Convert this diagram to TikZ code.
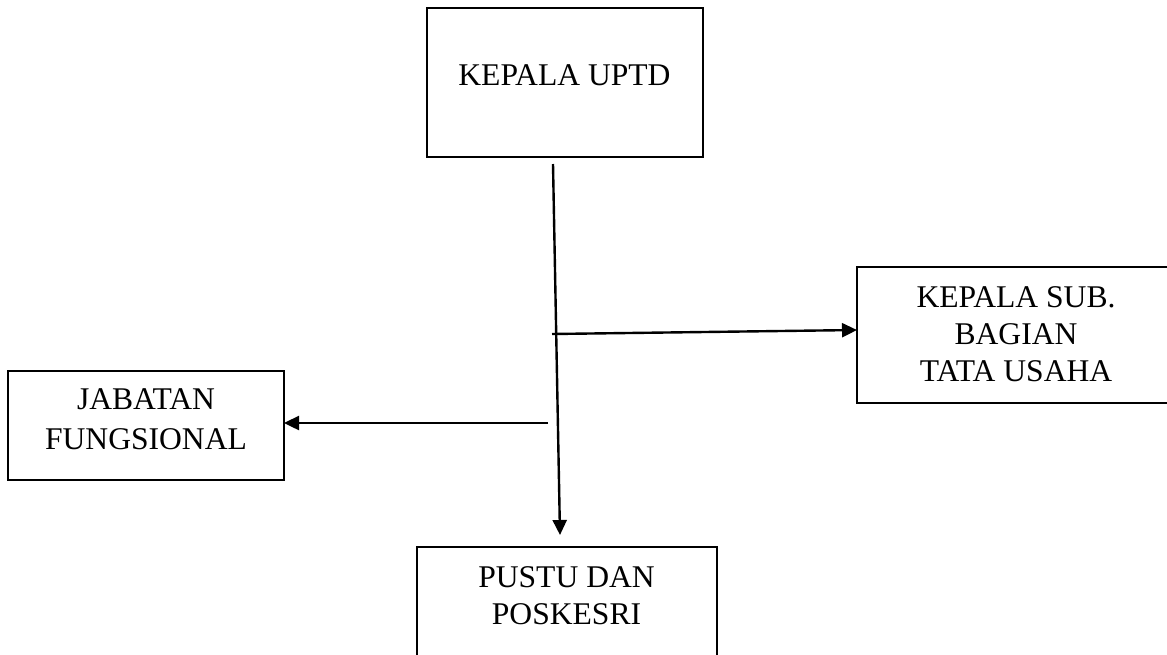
\documentclass[tikz,border=0pt]{standalone}
\usepackage{fontspec}
\setmainfont{Liberation Serif}
\usetikzlibrary{arrows.meta}
\begin{document}
\begin{tikzpicture}[x=0.5pt,y=-0.5pt,
  box/.style={draw=black,line width=1pt,rectangle,inner sep=0pt},
  lbl/.style={align=center,inner sep=0pt,font=\fontsize{15.8}{18.5}\selectfont},
  conn/.style={line width=1.2pt,-{Triangle[length=7.5pt,width=7pt]}}]
\clip (0,0) rectangle (1167,654);
\fill[white] (0,0) rectangle (1167,654);
% boxes
\node[box,minimum width=276pt*0.5,minimum height=149pt*0.5] (uptd) at (565,82.5) {};
\node[box,minimum width=318pt*0.5,minimum height=136pt*0.5] (sub) at (1016,335) {};
\node[box,minimum width=276pt*0.5,minimum height=109pt*0.5] (jab) at (146,425.5) {};
\node[box,minimum width=300pt*0.5,minimum height=140pt*0.5] (pus) at (567,617) {};
% labels
\node[lbl] (uptdl) at (564.5,75.5) {KEPALA UPTD};
\node[lbl] (subl) at (1016,334.5) {KEPALA SUB.\\BAGIAN\\TATA USAHA};
\node[lbl,font=\fontsize{15.8}{20}\selectfont] (jabl) at (146,419.5) {JABATAN\\FUNGSIONAL};
\node[lbl] (pusl) at (566.5,596) {PUSTU DAN\\POSKESRI};
% connector points
\coordinate (vtop) at (553,164);
\coordinate (vbot) at (560,535);
\coordinate (rstart) at (552,334);
\coordinate (rend) at (857,330);
\coordinate (lstart) at (548,423);
\coordinate (lend) at (284,423);
\draw[conn] (vtop) -- (vbot);
\draw[conn] (rstart) -- (rend);
\draw[conn] (lstart) -- (lend);
\end{tikzpicture}
\end{document}
